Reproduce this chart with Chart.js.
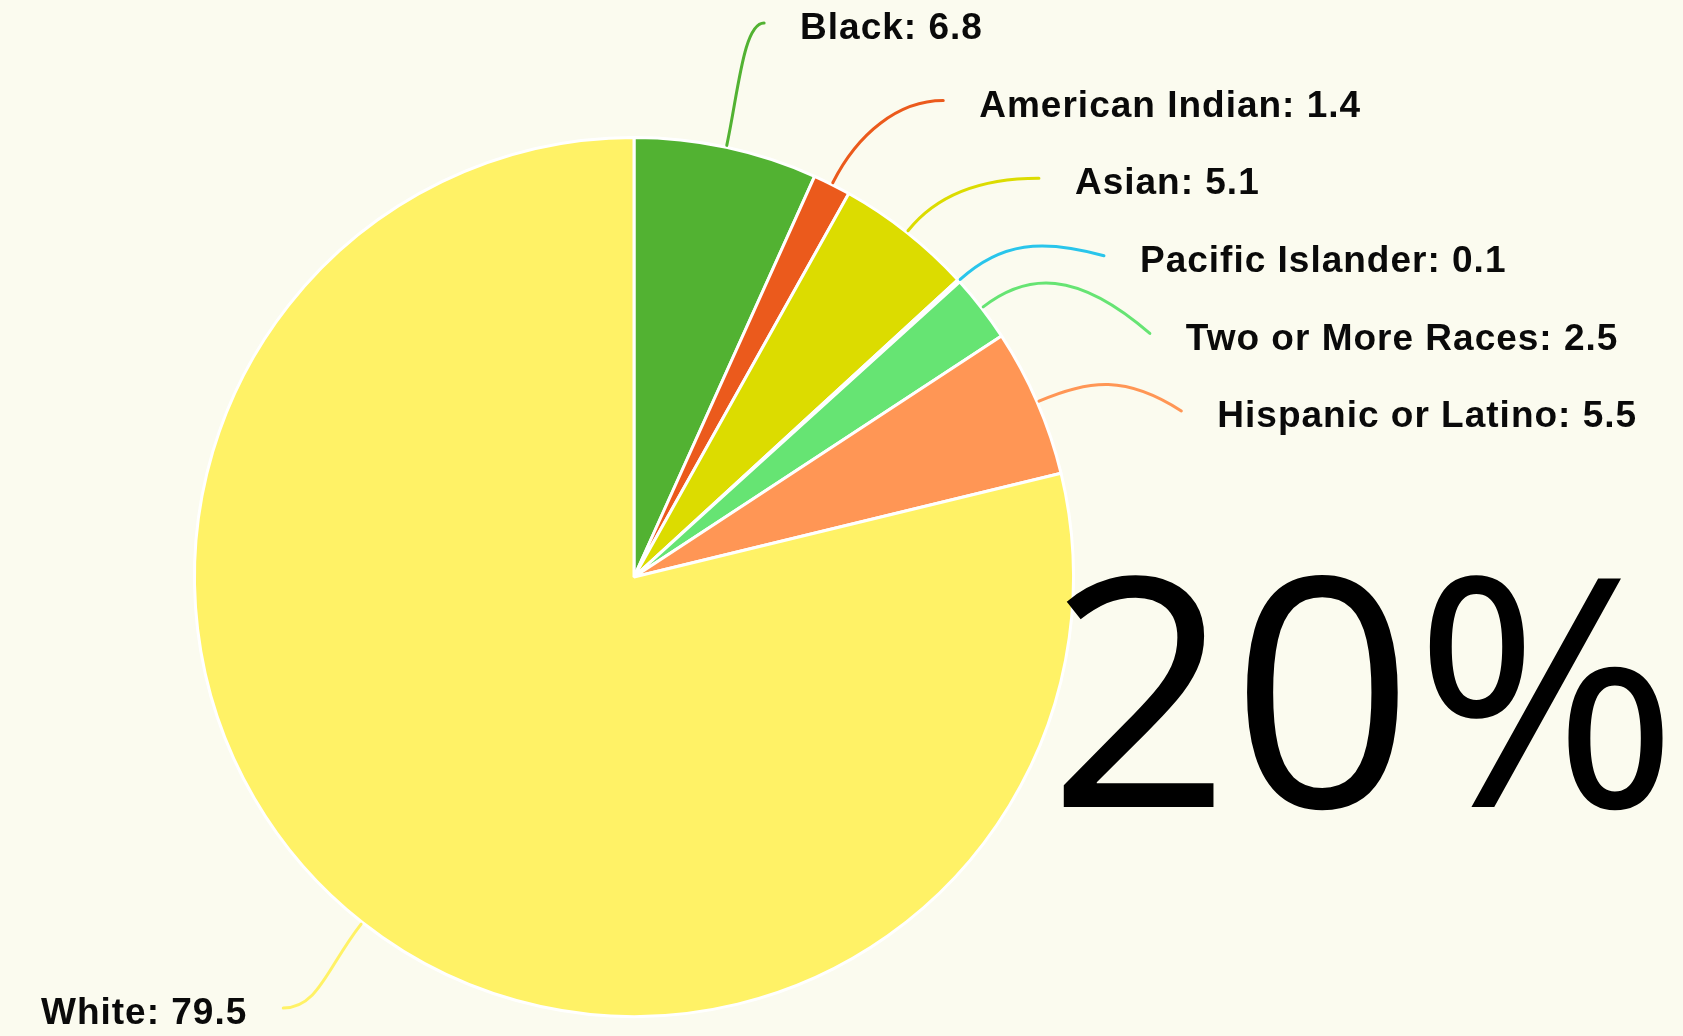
<!DOCTYPE html>
<html>
<head>
<meta charset="utf-8">
<script src="https://cdn.jsdelivr.net/npm/chart.js@4.4.1/dist/chart.umd.min.js"></script>
<style>
html,body{margin:0;padding:0;background:#fbfbef;}
#wrap{width:1683px;height:1036px;}
</style>
</head>
<body>
<div id="wrap"><canvas id="chart"></canvas></div>
<script>
const categories=['Black','American Indian','Asian','Pacific Islander','Two or More Races','Hispanic or Latino','White'];
const shares=[6.8,1.4,5.1,0.1,2.5,5.5,79.5];
const sliceColors=['#52b232','#eb5a1c','#dcdc00','#29c5eb','#66e473','#ff9655','#fff266'];
const bigText='20%';

const chart=document.querySelector('#chart').getContext('2d');

// labels stacked on either side, with curved leader lines
const sideLabels={
    id:'sideLabels',
    afterDatasetsDraw(c){
        const ctx=c.ctx;
        const arcs=c.getDatasetMeta(0).data;
        const cx=arcs[0].x, cy=arcs[0].y, r=arcs[0].outerRadius;
        const gap=77.6, top=29, bottom=c.height-22;
        // label edges sit on a circle slightly offset from the pie centre
        const lx=cx+26, ly=cy+21, lr=586;

        const items=arcs.map((a,i)=>{
            const mid=(a.startAngle+a.endAngle)/2;
            const ux=Math.cos(mid), uy=Math.sin(mid);
            return {i,ux,uy,right:ux>=0,natural:cy+uy*r*1.3};
        });

        let prev=-Infinity;
        items.filter(d=>d.right).sort((a,b)=>a.natural-b.natural).forEach(d=>{
            d.y=Math.max(d.natural,top,prev+gap); prev=d.y;
        });
        prev=Infinity;
        items.filter(d=>!d.right).sort((a,b)=>b.natural-a.natural).forEach(d=>{
            d.y=Math.min(d.natural,bottom,prev-gap); prev=d.y;
        });

        ctx.save();
        items.forEach(d=>{
            const dy=d.y-ly;
            const half=Math.sqrt(Math.max(0,lr*lr-dy*dy));
            const sgn=d.right?1:-1;
            const textX=d.right?lx+half:lx-half;

            const p0={x:cx+d.ux*(r+2), y:cy+d.uy*(r+2)};
            const c1={x:p0.x+d.ux*55, y:p0.y+d.uy*55};
            const p3={x:textX-sgn*36, y:d.y-6};
            const further=d.uy<0 ? p3.y<c1.y : p3.y>c1.y;
            let c2;
            if(further){
                const k=Math.min(45,Math.abs(p3.x-c1.x)*0.8);
                c2={x:p3.x-sgn*k, y:p3.y};
            }else{
                c2={x:c1.x+(p3.x-c1.x)*0.4, y:c1.y-4};
            }

            ctx.beginPath();
            ctx.moveTo(p0.x,p0.y);
            ctx.bezierCurveTo(c1.x,c1.y,c2.x,c2.y,p3.x,p3.y);
            ctx.strokeStyle=sliceColors[d.i];
            ctx.lineWidth=3;
            ctx.lineCap='round';
            ctx.stroke();

            ctx.font='bold 37px "Liberation Sans", Arial, sans-serif';
            ctx.letterSpacing='1px';
            ctx.fillStyle='#0a0a0a';
            ctx.textBaseline='middle';
            ctx.textAlign=d.right?'left':'right';
            ctx.fillText(categories[d.i]+': '+shares[d.i],textX,d.y);
        });

        ctx.letterSpacing='0px';
        ctx.font='320px "Open Sans", "Noto Sans", sans-serif';
        ctx.textAlign='left';
        ctx.textBaseline='alphabetic';
        ctx.fillStyle='#000';
        const m=ctx.measureText(bigText);
        ctx.fillText(bigText,1063+m.actualBoundingBoxLeft,807);
        ctx.restore();
    }
};

new Chart(chart,{
    type:'pie',
    data:{
        labels:categories,
        datasets:[{
            data:shares,
            backgroundColor:sliceColors,
            borderColor:'#ffffff',
            borderWidth:3
        }]
    },
    options:{
        responsive:true,
        maintainAspectRatio:false,
        animation:false,
        layout:{padding:{left:193,right:608,top:135,bottom:17}},
        plugins:{legend:{display:false}}
    },
    plugins:[sideLabels]
});
</script>
</body>
</html>
